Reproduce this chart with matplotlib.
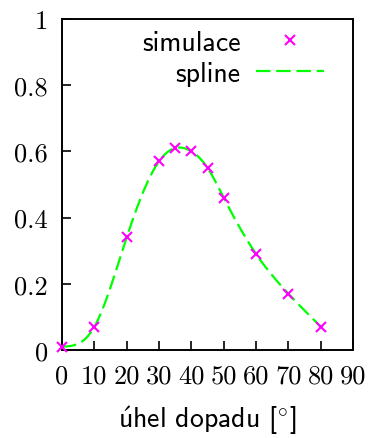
import numpy as np
import matplotlib
matplotlib.use('Agg')
import matplotlib.pyplot as plt
from matplotlib.ticker import FixedLocator

# simulated points (angle of incidence in degrees vs. value)
uhel = [0, 10, 20, 30, 35, 40, 45, 50, 60, 70, 80]
simulace = [0.01, 0.07, 0.34, 0.57, 0.61, 0.60, 0.55, 0.46, 0.29, 0.17, 0.07]

xticks = [0, 10, 20, 30, 40, 50, 60, 70, 80, 90]
yticks = [0, 0.2, 0.4, 0.6, 0.8, 1]
ytick_labels = ['0', '0.2', '0.4', '0.6', '0.8', '1']

plt.rcParams['mathtext.fontset'] = 'cm'


def natural_spline(x, y, xs):
    # natural cubic spline through the points
    x = np.asarray(x, float)
    y = np.asarray(y, float)
    n = len(x)
    h = np.diff(x)
    A = np.zeros((n, n))
    b = np.zeros(n)
    A[0, 0] = 1
    A[-1, -1] = 1
    for i in range(1, n - 1):
        A[i, i - 1] = h[i - 1]
        A[i, i] = 2 * (h[i - 1] + h[i])
        A[i, i + 1] = h[i]
        b[i] = 6 * ((y[i + 1] - y[i]) / h[i] - (y[i] - y[i - 1]) / h[i - 1])
    M = np.linalg.solve(A, b)
    out = np.empty_like(xs)
    for k, t in enumerate(xs):
        i = min(np.searchsorted(x, t, side='right') - 1, n - 2)
        i = max(i, 0)
        a = x[i + 1] - t
        c = t - x[i]
        out[k] = (M[i] * a**3 + M[i + 1] * c**3) / (6 * h[i]) \
            + (y[i] / h[i] - M[i] * h[i] / 6) * a \
            + (y[i + 1] / h[i] - M[i + 1] * h[i] / 6) * c
    return out


xs = np.linspace(uhel[0], uhel[-1], 400)
ys = natural_spline(uhel, simulace, xs)

fig = plt.figure(figsize=(3.69, 4.39), dpi=100)
ax = fig.add_axes([0.168, 0.2005, 0.789, 0.754])

ax.plot(uhel, simulace, linestyle='none', marker='x', color='#ff00ff',
        markersize=7, markeredgewidth=1.5, label='simulace', clip_on=False, zorder=3)
ax.plot(xs, ys, color='#00ff00', linewidth=1.6, dashes=(6.5, 2.6), label='spline', zorder=2)

ax.set_xlim(0, 90)
ax.set_ylim(0, 1)
ax.xaxis.set_major_locator(FixedLocator(xticks))
ax.set_xticklabels([str(t) for t in xticks], fontfamily='cmr10', fontsize=19)
ax.yaxis.set_major_locator(FixedLocator(yticks))
ax.set_yticklabels(ytick_labels, fontfamily='cmr10', fontsize=19)
ax.tick_params(direction='in', length=6.5, width=1.2, pad=10,
               top=False, right=False)

for s in ax.spines.values():
    s.set_linewidth(1.4)

ax.set_xlabel(r'$\acute{\mathsf{u}}$hel dopadu [$^{\circ}$]', fontsize=20,
              family=['cmss10', 'DejaVu Sans'], labelpad=11)

leg = ax.legend(loc='upper right', frameon=False, markerfirst=False,
                prop={'family': ['cmss10', 'DejaVu Sans'], 'size': 20},
                handlelength=2.45, handletextpad=0.55, labelspacing=0.2,
                borderaxespad=0.0, bbox_to_anchor=(0.938, 1.0))

fig.savefig('out.png', dpi=100)
